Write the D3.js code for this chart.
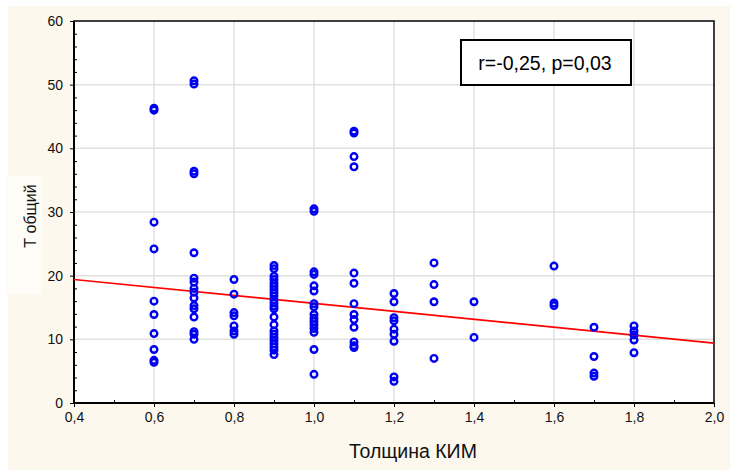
<!DOCTYPE html>
<head>
<meta charset="utf-8">
<style>
body{
    margin:0;
    background:#fff;
}
svg text{ font-family:"Liberation Sans", Arial, sans-serif; }
</style>
<title>Т общий vs Толщина КИМ</title>
</head>
<body>
<svg id="chart" width="730" height="470"></svg>
<script src="https://d3js.org/d3.v7.min.js"></script>
<script>
// x values (Толщина КИМ) and y values (Т общий)
var kim = [
    0.6,0.6,0.6,0.6,0.6,0.6,0.6,0.6,0.6,0.6,
    0.7,0.7,0.7,0.7,0.7,0.7,0.7,0.7,0.7,0.7,0.7,0.7,0.7,0.7,0.7,0.7,
    0.8,0.8,0.8,0.8,0.8,0.8,0.8,
    0.9,0.9,0.9,0.9,0.9,0.9,0.9,0.9,0.9,0.9,0.9,0.9,0.9,0.9,0.9,0.9,0.9,0.9,0.9,0.9,0.9,0.9,0.9,
    1.0,1.0,1.0,1.0,1.0,1.0,1.0,1.0,1.0,1.0,1.0,1.0,1.0,1.0,1.0,1.0,
    1.1,1.1,1.1,1.1,1.1,1.1,1.1,1.1,1.1,1.1,1.1,1.1,1.1,
    1.2,1.2,1.2,1.2,1.2,1.2,1.2,1.2,1.2,
    1.3,1.3,1.3,1.3,
    1.4,1.4,
    1.6,1.6,1.6,
    1.7,1.7,1.7,1.7,
    1.8,1.8,1.8,1.8,1.8
];
var tTotal = [
    46.3,46.0,28.4,24.2,16.0,13.9,10.9,8.4,6.7,6.4,
    50.6,50.1,36.4,36.0,23.6,19.6,19.0,18.0,17.4,16.5,15.3,14.8,13.5,11.2,10.8,10.0,
    19.4,17.1,14.2,13.7,12.1,11.3,10.8,
    21.6,21.1,19.9,19.4,18.8,18.3,17.8,17.3,16.8,16.2,15.7,15.2,14.8,13.5,12.3,11.3,10.8,10.3,9.8,9.3,8.8,8.3,7.6,
    30.5,30.1,20.6,20.2,18.4,17.6,15.6,15.1,13.9,13.3,12.8,12.3,11.7,11.1,8.4,4.5,
    42.7,42.4,38.7,37.1,20.4,18.8,15.6,13.9,13.1,11.9,9.6,9.0,8.7,
    17.2,15.9,13.4,12.9,11.6,10.8,9.7,4.1,3.4,
    22.0,18.6,15.9,7.0,
    15.9,10.3,
    21.5,15.7,15.3,
    11.9,7.3,4.7,4.2,
    12.1,11.3,10.7,9.9,7.9
];
// fitted line end points
var fitX = [0.4, 2.0];
var fitY = [19.4, 9.4];

var xTicks = [0.4,0.6,0.8,1.0,1.2,1.4,1.6,1.8,2.0];
var yTicks = [0,10,20,30,40,50,60];
var xLabel = "Толщина КИМ", yLabel = "Т общий", note = "r=-0,25, p=0,03";

var svg = d3.select("#chart");
var m = {l:74, t:21, r:714, b:403};

svg.append("rect").attr("x",8).attr("y",6).attr("width",722).attr("height",464).attr("fill","#fcf8ee");
svg.append("rect").attr("x",6).attr("y",176).attr("width",36).attr("height",118).attr("fill","#fefcf6");
svg.append("rect").attr("x",m.l).attr("y",m.t).attr("width",m.r-m.l).attr("height",m.b-m.t).attr("fill","#fff");

var x = d3.scaleLinear().domain([0.4,2.0]).range([m.l,m.r]);
var y = d3.scaleLinear().domain([0,60]).range([m.b,m.t]);
var comma = function(d){ return d3.format(".1f")(d).replace(".",","); };

// grid
svg.append("g").selectAll("line").data(xTicks.slice(1,-1)).join("line")
    .attr("x1",x).attr("x2",x).attr("y1",m.t).attr("y2",m.b)
    .attr("stroke","#e0e0e0").attr("stroke-width",1.5);
svg.append("g").selectAll("line").data(yTicks.slice(1,-1)).join("line")
    .attr("y1",y).attr("y2",y).attr("x1",m.l).attr("x2",m.r)
    .attr("stroke","#e0e0e0").attr("stroke-width",1.5);

// minor ticks inside
svg.append("g").attr("transform","translate(0,"+m.b+")")
    .call(d3.axisTop(x).tickValues(d3.range(0.5,2.0,0.2)).tickSize(3).tickFormat(""))
    .call(function(g){ g.select(".domain").remove(); g.selectAll("line").attr("stroke","#000"); });
svg.append("g").attr("transform","translate("+m.l+",0)")
    .call(d3.axisRight(y).tickValues(d3.range(2,60,2).filter(function(v){return v%10;})).tickSize(3).tickFormat(""))
    .call(function(g){ g.select(".domain").remove(); g.selectAll("line").attr("stroke","#000"); });

// major axes
var xa = svg.append("g").attr("transform","translate(0,"+m.b+")")
    .call(d3.axisBottom(x).tickValues(xTicks).tickSize(4).tickPadding(5).tickFormat(comma));
var ya = svg.append("g").attr("transform","translate("+m.l+",0)")
    .call(d3.axisLeft(y).tickValues(yTicks).tickSize(4).tickPadding(7).tickFormat(d3.format("d")));
[xa,ya].forEach(function(g){
    g.select(".domain").remove();
    g.selectAll("line").attr("stroke","#000");
    g.selectAll("text").attr("font-size","14px").attr("fill","#111")
        .attr("font-family","'Liberation Sans', Arial, sans-serif");
});

// frame
svg.append("rect").attr("x",m.l).attr("y",m.t).attr("width",m.r-m.l).attr("height",m.b-m.t)
    .attr("fill","none").attr("stroke","#000").attr("stroke-width",1.5);
svg.append("line").attr("x1",m.l).attr("x2",m.l).attr("y1",m.t).attr("y2",m.b).attr("stroke","#000").attr("stroke-width",2);
svg.append("line").attr("x1",m.l).attr("x2",m.r).attr("y1",m.b).attr("y2",m.b).attr("stroke","#000").attr("stroke-width",2);

// regression line
svg.append("line")
    .attr("x1",x(fitX[0])).attr("y1",y(fitY[0]))
    .attr("x2",x(fitX[1])).attr("y2",y(fitY[1]))
    .attr("stroke","#ff0000").attr("stroke-width",1.7);

// points
svg.append("g").selectAll("circle").data(kim).join("circle")
    .attr("cx",function(d){ return x(d); })
    .attr("cy",function(d,i){ return y(tTotal[i]); })
    .attr("r",3.3).attr("fill","none").attr("stroke","#0000f0").attr("stroke-width",2.4);

// note box
svg.append("rect").attr("x",461).attr("y",40).attr("width",170).attr("height",45)
    .attr("fill","#fff").attr("stroke","#000").attr("stroke-width",2);
svg.append("text").attr("x",545).attr("y",70).attr("text-anchor","middle")
    .attr("font-family","Lato, 'Open Sans', sans-serif").attr("font-size","19.5px").attr("fill","#000")
    .text(note);

// axis titles
svg.append("text").attr("x",413).attr("y",458).attr("text-anchor","middle")
    .attr("font-family","Lato, 'Open Sans', sans-serif").attr("font-size","19.5px").attr("fill","#111")
    .text(xLabel);
svg.append("text").attr("transform","translate(36,216) rotate(-90)").attr("text-anchor","middle")
    .attr("font-size","16px").attr("fill","#111")
    .text(yLabel);
</script>
</body>
